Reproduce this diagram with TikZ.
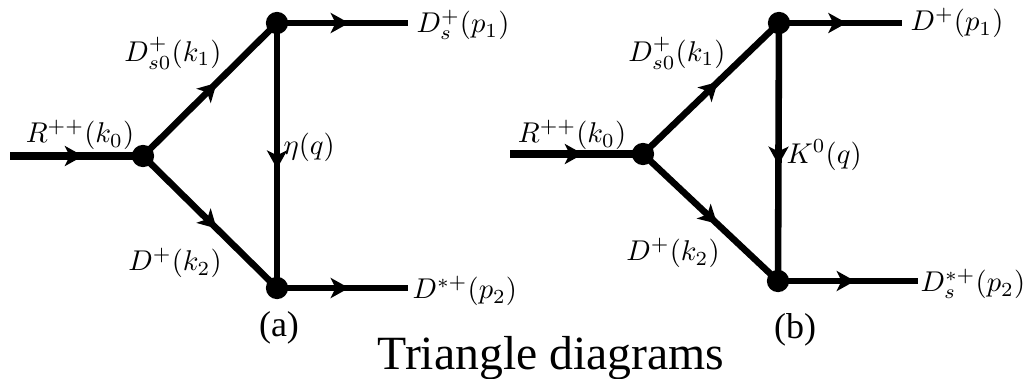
\documentclass[tikz,border=0pt]{standalone}
\usepackage{fontspec}
\newfontfamily\capfont{Liberation Serif}
\usetikzlibrary{arrows.meta,decorations.markings}
\begin{document}
\begin{tikzpicture}[x=0.35pt,y=-0.35pt,
  vtx/.style={circle,fill=black,inner sep=0pt,minimum size=7.8pt},
  prop/.style={line width=2.3pt,postaction={decorate},decoration={markings,
     mark=at position 0.55 with {\arrow{Stealth[length=6.4pt,width=7pt,inset=1.7pt]}}}},
  inprop/.style={prop,line width=2.8pt},
  lab/.style={inner sep=0pt,font=\fontsize{10}{12}\selectfont},
  sublab/.style={inner sep=0pt,font=\capfont\fontsize{12.6}{14}\selectfont},
  captext/.style={inner sep=0pt,font=\capfont\fontsize{16.7}{18}\selectfont}]
\useasboundingbox (0,0) rectangle (1023,378);
% ---------- diagram (a)
\coordinate (ain) at (10,156);
\node[vtx] (aL) at (143,156) {};
\node[vtx] (aT) at (277,23) {};
\node[vtx] (aB) at (277,288) {};
\coordinate (ao1) at (408,23);
\coordinate (ao2) at (408,288);
\draw[inprop] (ain) -- (aL.center);
\draw[prop] (aL.center) -- (aT.center);
\draw[prop] (aL.center) -- (aB.center);
\draw[prop] (aT.center) -- (aB.center);
\draw[prop] (aT.center) -- (ao1);
\draw[prop] (aB.center) -- (ao2);
\node[lab] (aR) at (80,135) {$R^{++}(k_0)$};
\node[lab] (ak1) at (173,53) {$D_{s0}^{+}(k_1)$};
\node[lab] (ak2) at (175,263) {$D^{+}(k_2)$};
\node[lab,anchor=west] (aq) at (283,147) {$\eta(q)$};
\node[lab,anchor=west] (ap1) at (416,25) {$D_s^{+}(p_1)$};
\node[lab,anchor=west] (ap2) at (412,291) {$D^{*+}(p_2)$};
\node[sublab] (asub) at (279,328) {(a)};
% ---------- diagram (b)
\coordinate (bin) at (510,154);
\node[vtx] (bL) at (643,154) {};
\node[vtx] (bT) at (779,23) {};
\node[vtx] (bB) at (778,281) {};
\coordinate (bo1) at (902,23);
\coordinate (bo2) at (918,281);
\draw[inprop] (bin) -- (bL.center);
\draw[prop] (bL.center) -- (bT.center);
\draw[prop] (bL.center) -- (bB.center);
\draw[prop] (bT.center) -- (bB.center);
\draw[prop] (bT.center) -- (bo1);
\draw[prop] (bB.center) -- (bo2);
\node[lab] (bR) at (572,135) {$R^{++}(k_0)$};
\node[lab] (bk1) at (677,53) {$D_{s0}^{+}(k_1)$};
\node[lab] (bk2) at (673,253) {$D^{+}(k_2)$};
\node[lab,anchor=west] (bq) at (786,155) {$K^{0}(q)$};
\node[lab,anchor=west] (bp1) at (910,23) {$D^{+}(p_1)$};
\node[lab,anchor=west] (bp2) at (920,284) {$D_s^{*+}(p_2)$};
\node[sublab] (bsub) at (795,330) {(b)};
% ---------- caption
\node[captext,anchor=base] (caption) at (551,369) {Triangle diagrams};
\end{tikzpicture}
\end{document}
